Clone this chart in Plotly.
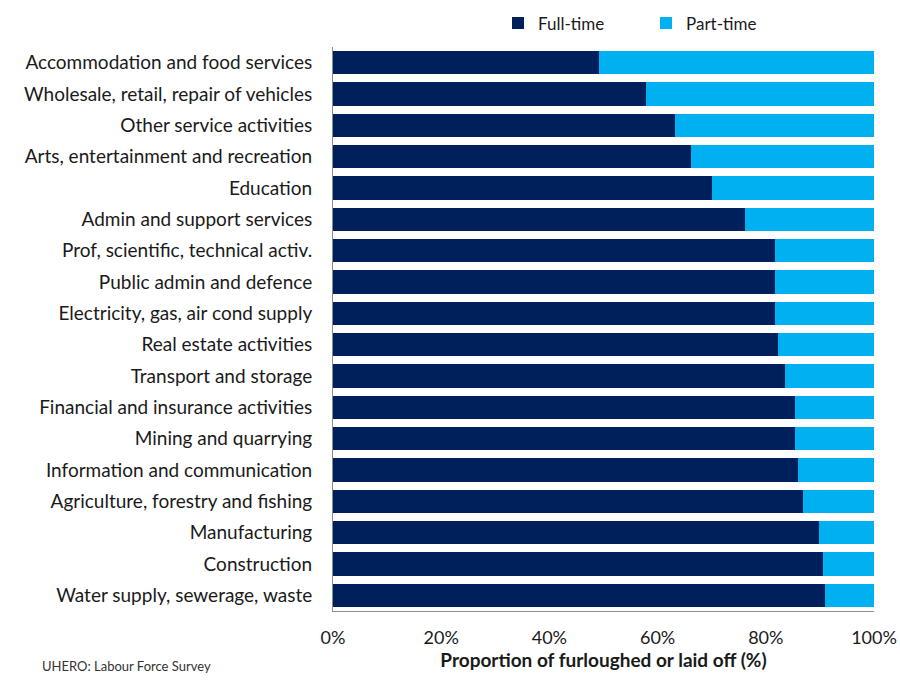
import plotly.graph_objects as go

industries = [
    "Accommodation and food services",
    "Wholesale, retail, repair of vehicles",
    "Other service activities",
    "Arts, entertainment and recreation",
    "Education",
    "Admin and support services",
    "Prof, scientific, technical activ.",
    "Public admin and defence",
    "Electricity, gas, air cond supply",
    "Real estate activities",
    "Transport and storage",
    "Financial and insurance activities",
    "Mining and quarrying",
    "Information and communication",
    "Agriculture, forestry and fishing",
    "Manufacturing",
    "Construction",
    "Water supply, sewerage, waste",
]
full_time = [49.2, 57.9, 63.2, 66.2, 70.1, 76.2, 81.7, 81.7, 81.7, 82.3,
             83.5, 85.4, 85.4, 86.0, 86.9, 89.8, 90.6, 90.9]
part_time = [round(100 - v, 1) for v in full_time]

FONT = "Lato"

fig = go.Figure()
fig.add_trace(go.Bar(
    y=industries, x=full_time, orientation="h", name="Full-time",
    marker=dict(color="#00205C", line=dict(width=0)),
))
fig.add_trace(go.Bar(
    y=industries, x=part_time, orientation="h", name="Part-time",
    marker=dict(color="#00B0F0", line=dict(width=0)),
))

fig.update_layout(
    width=900, height=680,
    barmode="stack", bargap=0.26,
    plot_bgcolor="white", paper_bgcolor="white",
    margin=dict(l=333, r=26, t=47, b=69, autoexpand=False),
    font=dict(family=FONT, size=19, color="#1a1a1a"),
    legend=dict(
        orientation="h", x=0.305, xanchor="left", y=1.01, yanchor="bottom",
        font=dict(size=17), traceorder="normal", itemwidth=30,
        entrywidth=103,
    ),
    xaxis=dict(
        range=[0, 100], tickvals=[0, 20, 40, 60, 80, 100],
        ticktext=["0%", "20%", "40%", "60%", "80%", "100%"],
        showgrid=False, zeroline=False, showline=True,
        linecolor="#8c8c8c", linewidth=1, ticks="",
        tickfont=dict(size=18), ticklabelstandoff=10, automargin=False,
        title=dict(text="<b>Proportion of furloughed or laid off (%)</b>",
                   font=dict(size=19), standoff=6),
    ),
    yaxis=dict(
        autorange="reversed", showgrid=False, showline=True,
        linecolor="#8c8c8c", linewidth=1, ticks="",
        tickfont=dict(size=19), ticklabelstandoff=16, automargin=False,
    ),
)

fig.add_annotation(
    text="UHERO: Labour Force Survey", xref="paper", yref="paper",
    x=(40 - 333) / 541, xanchor="left", y=-0.116, yanchor="bottom",
    showarrow=False, font=dict(size=13, color="#333333"),
)

fig.write_html("out.html")
